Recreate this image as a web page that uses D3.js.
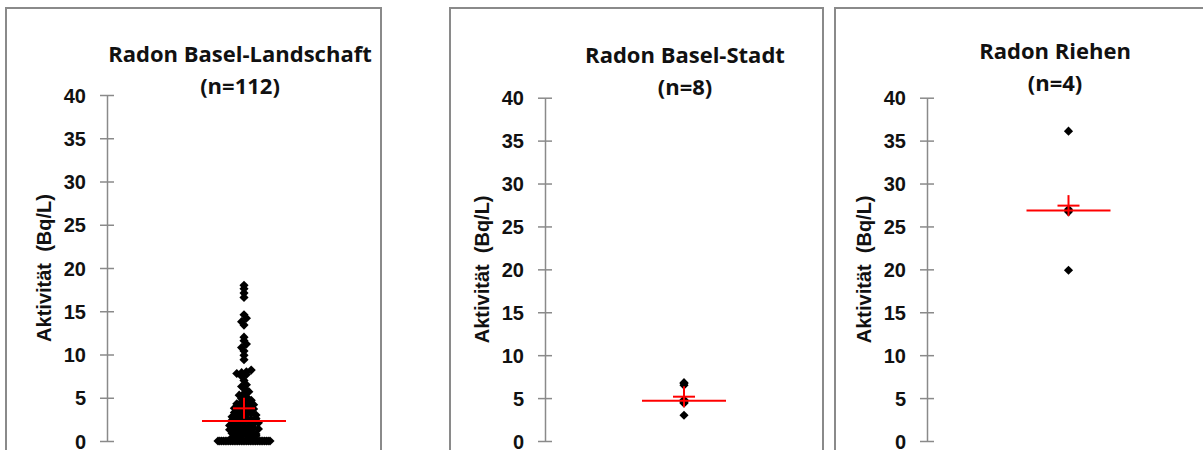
<!DOCTYPE html>
<html>
<head>
<meta charset="utf-8">
<script src="https://cdn.jsdelivr.net/npm/d3@7"></script>
<style>
  body { margin: 0; background: #fff; }
  svg { display: block; }
</style>
</head>
<body>
<svg id="chart" width="1203" height="450"></svg>
<script>
// ---- data -------------------------------------------------------------
const panelTitles = ["Radon Basel-Landschaft", "Radon Basel-Stadt", "Radon Riehen"];
const sampleCounts = [112, 8, 4];
const yTicks = [0, 5, 10, 15, 20, 25, 30, 35, 40];
const yAxisTitle = "Aktivität  (Bq/L)";

// Radon activity per sample, Bq/L
const radonBaselLandschaft = [
  0, 0, 0, 0, 0, 0, 0, 0, 0, 0, 0, 0, 0, 0, 0,
  0, 0, 0, 0, 0, 0, 0, 0, 0, 0, 0, 0, 0, 0, 0,
  0.4, 0.5, 0.6, 0.7, 0.5, 0.6,
  0.9, 1.0, 1.1, 1.2, 1.0, 0.8,
  1.3, 1.4, 1.5, 1.6, 1.7, 1.5, 1.4,
  1.8, 1.9, 2.0, 2.1, 2.2, 2.0, 2.1,
  2.4, 2.5, 2.6, 2.7, 2.5, 2.6,
  2.8, 2.9, 3.0, 3.1, 3.2, 3.0,
  3.3, 3.4, 3.5, 3.6, 3.7,
  3.8, 3.9, 4.0, 4.1, 4.2,
  4.3, 4.5, 4.6, 4.7,
  4.9, 5.1, 5.3, 5.5, 5.7, 6.1, 6.3, 6.5, 7.0,
  7.5, 7.7, 7.8, 7.9, 8.0, 8.2,
  9.4, 9.9, 10.4, 10.8, 11.2, 11.6, 12.0,
  13.4, 13.8, 14.2, 14.6,
  16.6, 17.1, 17.6, 18.0
];
const radonBaselStadt = [3.0, 4.4, 4.5, 4.6, 4.8, 6.5, 6.7, 6.8];
const radonRiehen = [19.9, 26.7, 27.0, 36.1];

const seriesValues = [radonBaselLandschaft, radonBaselStadt, radonRiehen];

// ---- layout of the three panels ---------------------------------------
const panelLayout = [
  { left: 6,   right: 381,  axisX: 107, yTop: 95,   titleX: 240,  titleY: 62, spread: true },
  { left: 450, right: 823,  axisX: 545, yTop: 97.7, titleX: 685,  titleY: 63, spread: false },
  { left: 835, right: 1210, axisX: 927, yTop: 97.7, titleX: 1055, titleY: 59, spread: false }
];
const yBottom = 441;
const axisFont = "'Liberation Sans', Arial, sans-serif";

const svg = d3.select("#chart");

// Square rotated 45° gives the diamond marker
const diamond = d3.symbol().type(d3.symbolSquare).size(42)();

panelTitles.forEach((title, i) => {
  const L = panelLayout[i];
  const values = seriesValues[i];
  const g = svg.append("g");

  // panel frame
  g.append("rect")
    .attr("x", L.left).attr("y", 8)
    .attr("width", L.right - L.left).attr("height", 460)
    .attr("fill", "#fff")
    .attr("stroke", "#8a8a8a").attr("stroke-width", 2);

  const y = d3.scaleLinear().domain([0, 40]).range([yBottom, L.yTop]);
  const x = d3.scalePoint().domain([title]).range([L.axisX, L.right]).padding(0.5);
  const cx = x(title);

  // y axis: ticks cross the axis line
  const axis = d3.axisLeft(y).tickValues(yTicks).tickSize(0).tickPadding(21);
  const ag = g.append("g").attr("transform", `translate(${L.axisX},0)`).call(axis);
  ag.select(".domain").attr("stroke", "#8a8a8a").attr("stroke-width", 1.5);
  ag.selectAll(".tick").append("line")
    .attr("x1", -7).attr("x2", 7)
    .attr("stroke", "#8a8a8a").attr("stroke-width", 1.5);
  ag.selectAll(".tick text")
    .attr("font-family", axisFont)
    .attr("font-weight", "bold")
    .attr("font-size", 20)
    .attr("fill", "#111")
    .attr("dy", "0.36em");

  // axis title
  g.append("text")
    .attr("transform", `translate(${L.axisX - 56},${(yBottom + L.yTop) / 2}) rotate(-90)`)
    .attr("text-anchor", "middle")
    .attr("font-family", axisFont)
    .attr("font-weight", "bold")
    .attr("font-size", 20)
    .attr("fill", "#111")
    .style("white-space", "pre")
    .text(yAxisTitle);

  // chart title, two lines
  const t = g.append("text")
    .attr("text-anchor", "middle")
    .attr("font-family", "'Open Sans', Lato, sans-serif")
    .attr("font-weight", "bold")
    .attr("font-size", 22)
    .attr("fill", "#111");
  t.append("tspan").attr("x", L.titleX).attr("y", L.titleY).text(title);
  t.append("tspan").attr("x", L.titleX).attr("y", L.titleY + 32).text(`(n=${sampleCounts[i]})`);

  // horizontal offsets: equal-ish values share a row and are spread sideways
  const offsets = new Array(values.length).fill(0);
  if (L.spread) {
    const bins = d3.group(values.map((v, k) => ({ v, k })), d => Math.round(d.v / 0.5));
    bins.forEach(items => {
      const n = items.length;
      if (n < 2) return;
      const step = Math.min(4.8, 52 / (n - 1));
      items.forEach((d, j) => { offsets[d.k] = (j - (n - 1) / 2) * step; });
    });
  }

  g.append("g").selectAll("path")
    .data(values)
    .join("path")
    .attr("d", diamond)
    .attr("transform", (v, k) => `translate(${cx + offsets[k]},${y(v)}) rotate(45)`)
    .attr("fill", "#000");

  // median line and mean cross
  const med = d3.median(values);
  const mean = d3.mean(values);
  g.append("line")
    .attr("x1", cx - 42).attr("x2", cx + 42)
    .attr("y1", y(med)).attr("y2", y(med))
    .attr("stroke", "#ff0000").attr("stroke-width", 2);
  g.append("line")
    .attr("x1", cx - 11).attr("x2", cx + 11)
    .attr("y1", y(mean)).attr("y2", y(mean))
    .attr("stroke", "#ff0000").attr("stroke-width", 2);
  g.append("line")
    .attr("x1", cx).attr("x2", cx)
    .attr("y1", y(mean) - 10.5).attr("y2", y(mean) + 10.5)
    .attr("stroke", "#ff0000").attr("stroke-width", 2);
});
</script>
</body>
</html>
